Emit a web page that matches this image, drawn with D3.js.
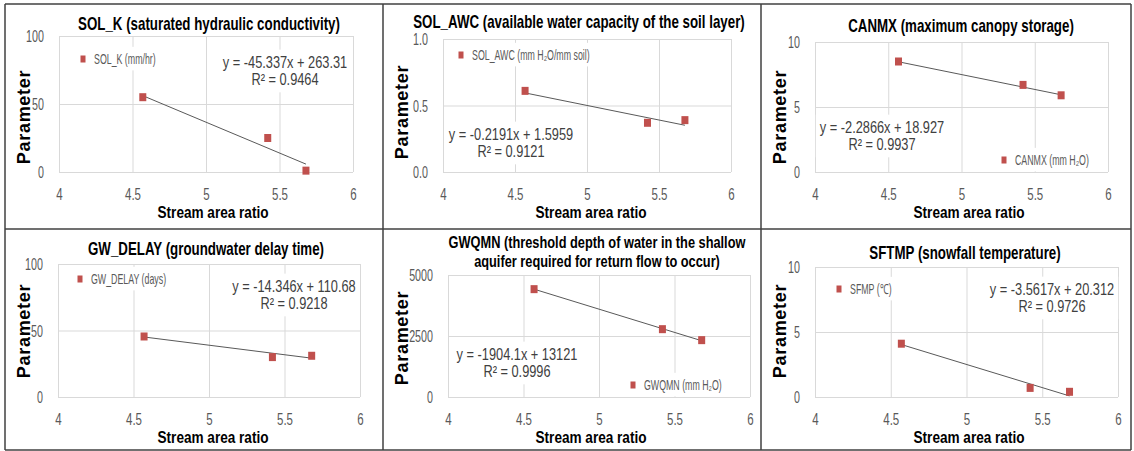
<!DOCTYPE html>
<html>
<head>
<meta charset="utf-8">
<script src="https://cdn.jsdelivr.net/npm/d3@7"></script>
<style>
body { margin: 0; background: #fff; }
svg { display: block; }
</style>
</head>
<body>
<svg id="paint_field"></svg>
<script>
const svg_width = 1134, svg_height = 451;

// Данные: отношение площади потока и значения параметров
const stream_ratio = [4.57, 5.42, 5.68];
const sol_k = [55, 25, 1];
const sol_awc = [0.61, 0.37, 0.39];
const canmx = [8.5, 6.7, 5.9];
const gw_delay = [45.5, 30, 31];
const gwqmn = [4420, 2780, 2330];
const sftmp = [4.1, 0.7, 0.4];

const titles = [
    ["SOL_K (saturated hydraulic conductivity)"],
    ["SOL_AWC (available water capacity of the soil layer)"],
    ["CANMX (maximum canopy storage)"],
    ["GW_DELAY (groundwater delay time)"],
    ["GWQMN (threshold depth of water in the shallow", "aquifer required for return flow to occur)"],
    ["SFTMP (snowfall temperature)"]
];
const legend_labels = [
    "SOL_K (mm/hr)",
    "SOL_AWC (mm H\u2082O/mm soil)",
    "CANMX (mm H\u2082O)",
    "GW_DELAY (days)",
    "GWQMN (mm H\u2082O)",
    "SFMP (\u2103)"
];
const slopes = [-45.337, -0.2191, -2.2866, -14.346, -1904.1, -3.5617];
const intercepts = [263.31, 1.5959, 18.927, 110.68, 13121, 20.312];
const r2_values = ["0.9464", "0.9121", "0.9937", "0.9218", "0.9996", "0.9726"];

const x_ticks = [4, 4.5, 5, 5.5, 6];
const y_ticks = [
    [0, 50, 100],
    [0, 0.5, 1],
    [0, 5, 10],
    [0, 50, 100],
    [0, 2500, 5000],
    [0, 5, 10]
];
const x_label = "Stream area ratio";
const y_label = "Parameter";

// Расположение панелей (пиксели)
const layout = [
    {cell: 5,   x0: 59,  x1: 353,  y0: 36,  y1: 172, titleX: 209, titleY: [30],       paramY: 117, axisX: 213, legend: [83, 59],   eq: [285, 68]},
    {cell: 383, x0: 443, x1: 731,  y0: 39,  y1: 172, titleX: 579, titleY: [28],       paramY: 112, axisX: 591, legend: [461, 55],  eq: [511, 140]},
    {cell: 761, x0: 815, x1: 1108, y0: 42,  y1: 172, titleX: 961, titleY: [32],       paramY: 117, axisX: 969, legend: [1004, 160], eq: [882, 133]},
    {cell: 5,   x0: 58,  x1: 360,  y0: 264, y1: 397, titleX: 206, titleY: [255],      paramY: 331, axisX: 213, legend: [80, 279],  eq: [294, 292]},
    {cell: 383, x0: 448, x1: 750,  y0: 275, y1: 397, titleX: 597, titleY: [248, 267], paramY: 338, axisX: 591, legend: [633, 385], eq: [517, 360]},
    {cell: 761, x0: 815, x1: 1118, y0: 267, y1: 397, titleX: 965, titleY: [259],      paramY: 331, axisX: 969, legend: [839, 289], eq: [1052, 295]}
];

const font_narrow = "'Liberation Sans Narrow', 'Liberation Sans', Arial, sans-serif";
const font_wide = "'Liberation Sans', Arial, sans-serif";
const marker_color = "#c0504d";

const svg = d3.select("#paint_field")
    .attr("width", svg_width)
    .attr("height", svg_height);

// Сжатие текста по горизонтали
function squish(selection, sx) {
    selection.each(function() {
        const t = d3.select(this);
        const x = +t.attr("x") || 0, y = +t.attr("y") || 0;
        t.attr("x", 0).attr("y", 0)
            .attr("transform", `translate(${x},${y}) scale(${sx},1)`);
    });
}

// Белая подложка под группу
function backdrop(group, pad) {
    const b = group.node().getBBox();
    group.insert("rect", ":first-child")
        .attr("x", b.x - pad)
        .attr("y", b.y - pad)
        .attr("width", b.width + pad * 2)
        .attr("height", b.height + pad * 2)
        .attr("fill", "#fff");
}

function drawPanel(i, values) {
    const L = layout[i];
    const g = svg.append("g");
    const x = d3.scaleLinear().domain([4, 6]).range([L.x0, L.x1]);
    const y = d3.scaleLinear().domain([0, d3.max(y_ticks[i])]).range([L.y1, L.y0]);
    const yfmt = i === 1 ? d3.format(".1f") : d => String(d);

    // Сетка и подписи оси X
    const xa = g.append("g")
        .attr("transform", `translate(0,${L.y1})`)
        .call(d3.axisBottom(x).tickValues(x_ticks).tickSize(-(L.y1 - L.y0)).tickFormat(d => String(d)));
    xa.select(".domain").remove();
    xa.selectAll("line").attr("stroke", "#d9d9d9");
    xa.selectAll("text")
        .attr("y", 28).attr("dy", null)
        .attr("fill", "#595959")
        .style("font-family", font_narrow)
        .style("font-size", "16px")
        .call(squish, 0.72);

    // Сетка и подписи оси Y
    const ya = g.append("g")
        .attr("transform", `translate(${L.x0},0)`)
        .call(d3.axisLeft(y).tickValues(y_ticks[i]).tickSize(-(L.x1 - L.x0)).tickPadding(15).tickFormat(yfmt));
    ya.select(".domain").remove();
    ya.selectAll("line").attr("stroke", "#d9d9d9");
    ya.selectAll("text")
        .attr("dy", "0.35em")
        .attr("fill", "#595959")
        .style("font-family", font_narrow)
        .style("font-size", "16px")
        .call(squish, 0.67);

    // Линия тренда
    const xs = [stream_ratio[0], stream_ratio[stream_ratio.length - 1]];
    g.append("line")
        .attr("x1", x(xs[0])).attr("y1", y(slopes[i] * xs[0] + intercepts[i]))
        .attr("x2", x(xs[1])).attr("y2", y(slopes[i] * xs[1] + intercepts[i]))
        .attr("stroke", "#595959")
        .attr("stroke-width", 1);

    // Точки
    g.selectAll("rect.pt")
        .data(values)
        .enter().append("rect")
        .attr("class", "pt")
        .attr("x", (d, k) => x(stream_ratio[k]) - 3.5)
        .attr("y", d => y(d) - 4)
        .attr("width", 7)
        .attr("height", 8)
        .attr("fill", marker_color);

    // Легенда
    const lg = g.append("g");
    lg.append("rect")
        .attr("x", L.legend[0] - 2.5).attr("y", L.legend[1] - 3.5)
        .attr("width", 5).attr("height", 7)
        .attr("fill", marker_color);
    lg.append("text")
        .attr("x", L.legend[0] + 11).attr("y", L.legend[1] + 5)
        .attr("fill", "#595959")
        .style("font-family", font_narrow)
        .style("font-size", "14px")
        .text(legend_labels[i])
        .call(squish, 0.63);
    backdrop(lg, 4);

    // Уравнение регрессии
    const eq = g.append("g")
        .style("font-family", font_narrow)
        .style("font-size", "16px")
        .attr("fill", "#404040")
        .attr("text-anchor", "middle");
    eq.append("text")
        .attr("x", L.eq[0]).attr("y", L.eq[1])
        .text(`y = ${slopes[i]}x + ${intercepts[i]}`)
        .call(squish, 0.8);
    eq.append("text")
        .attr("x", L.eq[0]).attr("y", L.eq[1] + 17)
        .text(`R\u00b2 = ${r2_values[i]}`)
        .call(squish, 0.8);
    backdrop(eq, 4);

    // Заголовок
    const tsize = titles[i].length > 1 ? 16 : 18;
    const tscale = titles[i].length > 1 ? 0.8 : 0.74;
    g.selectAll("text.title")
        .data(titles[i])
        .enter().append("text")
        .attr("class", "title")
        .attr("x", L.titleX)
        .attr("y", (d, k) => L.titleY[k])
        .attr("text-anchor", "middle")
        .attr("fill", "#000")
        .style("font-family", font_narrow)
        .style("font-weight", "bold")
        .style("font-size", tsize + "px")
        .text(d => d)
        .call(squish, tscale);

    // Подписи осей
    g.append("text")
        .attr("x", L.axisX).attr("y", L.y1 + 46)
        .attr("text-anchor", "middle")
        .style("font-family", font_narrow)
        .style("font-weight", "bold")
        .style("font-size", "17px")
        .text(x_label)
        .call(squish, 0.8);
    g.append("text")
        .attr("transform", `translate(${L.cell + 25},${L.paramY}) rotate(-90)`)
        .attr("text-anchor", "middle")
        .style("font-family", font_wide)
        .style("font-weight", "bold")
        .style("font-size", "18px")
        .style("letter-spacing", "0.7px")
        .text(y_label);
}

[sol_k, sol_awc, canmx, gw_delay, gwqmn, sftmp].forEach((vals, i) => drawPanel(i, vals));

// Рамка таблицы
const frame_h = [4, 229, 450];
const frame_v = [5, 383, 761, 1131];
svg.selectAll("line.fh").data(frame_h).enter().append("line")
    .attr("x1", 5).attr("x2", 1131).attr("y1", d => d).attr("y2", d => d)
    .attr("stroke", "#404040").attr("stroke-width", 1.5);
svg.selectAll("line.fv").data(frame_v).enter().append("line")
    .attr("y1", 4).attr("y2", 450).attr("x1", d => d).attr("x2", d => d)
    .attr("stroke", "#404040").attr("stroke-width", 1.5);
</script>
</body>
</html>
